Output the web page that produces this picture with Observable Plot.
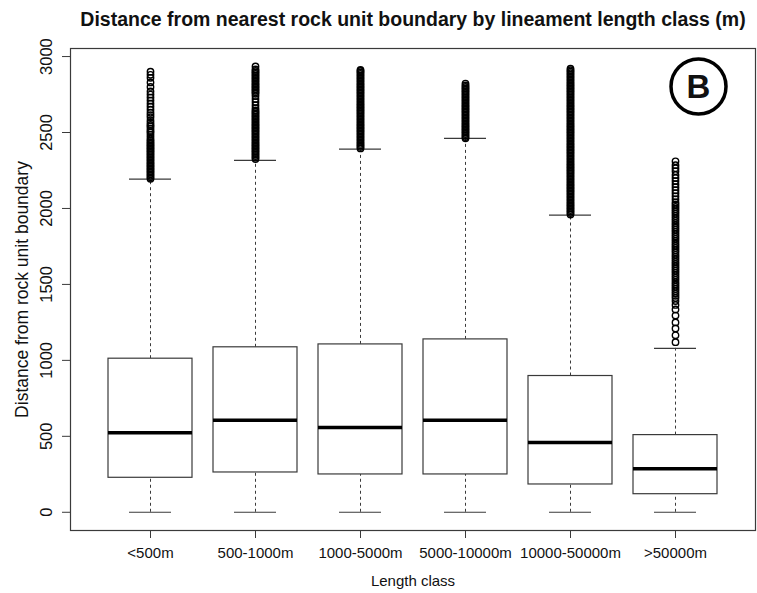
<!DOCTYPE html>
<html><head><meta charset="utf-8">
<script src="https://cdn.jsdelivr.net/npm/d3@7"></script>
<script src="https://cdn.jsdelivr.net/npm/@observablehq/plot@0.6"></script>
<style>html,body{margin:0;padding:0;background:#fff;}</style>
</head><body><div id="chart"></div>
<script>
const classes = ["<500m","500-1000m","1000-5000m","5000-10000m","10000-50000m",">50000m"];
const whiskerLow = [0,0,0,0,0,0];
const q1 = [227,262,249,249,183,119];
const median = [523,605,558,605,459,286];
const q3 = [1011,1086,1105,1138,897,508];
const whiskerHigh = [2193,2317,2391,2462,1956,1079];
const outliers1 = [2195,2205,2215,2225,2235,2245,2255,2265,2275,2285,2295,2305,2315,2325,2335,2345,2355,2365,2375,2385,2395,2405,2415,2425,2435,2445,2455,2470,2485,2500,2510,2525,2540,2550,2565,2580,2600,2615,2630,2650,2670,2690,2710,2730,2750,2770,2800,2830,2860,2880,2900];
const outliers2 = [2325,2335,2345,2355,2365,2375,2385,2395,2405,2415,2425,2435,2445,2455,2465,2475,2485,2495,2505,2515,2525,2535,2545,2555,2565,2575,2585,2595,2605,2615,2625,2635,2645,2660,2680,2700,2720,2740,2755,2765,2775,2785,2795,2805,2815,2825,2835,2845,2855,2865,2875,2885,2895,2905,2915,2935];
const outliers3 = [2395,2405,2415,2425,2435,2445,2455,2465,2475,2485,2495,2505,2515,2525,2535,2545,2555,2565,2575,2585,2595,2605,2615,2625,2635,2645,2655,2665,2675,2685,2695,2705,2715,2725,2735,2745,2755,2765,2775,2785,2795,2805,2815,2825,2835,2845,2855,2865,2875,2885,2895,2905,2912];
const outliers4 = [2462,2470,2480,2490,2500,2510,2520,2530,2540,2550,2560,2570,2580,2590,2600,2610,2620,2630,2640,2650,2660,2670,2680,2690,2700,2710,2720,2730,2740,2750,2760,2770,2780,2790,2800,2810,2822];
const outliers5 = [1960,1970,1980,1990,2000,2010,2020,2030,2040,2050,2060,2070,2080,2090,2100,2110,2120,2130,2140,2150,2160,2170,2180,2190,2200,2210,2220,2230,2240,2250,2260,2270,2280,2290,2300,2310,2320,2330,2340,2350,2360,2370,2380,2390,2400,2410,2420,2430,2440,2450,2460,2470,2480,2490,2500,2510,2520,2530,2540,2550,2560,2570,2580,2590,2600,2610,2620,2630,2640,2650,2660,2670,2680,2690,2700,2710,2720,2730,2740,2750,2760,2770,2780,2790,2800,2810,2820,2830,2840,2850,2860,2870,2880,2890,2900,2910,2920];
const outliers6 = [1120,1165,1210,1250,1295,1335,1365,1390,1410,1425,1440,1455,1470,1485,1500,1515,1530,1545,1560,1575,1590,1605,1620,1635,1650,1665,1680,1695,1710,1725,1740,1755,1770,1785,1800,1815,1830,1845,1860,1875,1890,1905,1920,1935,1950,1965,1980,1995,2010,2025,2040,2060,2080,2100,2120,2140,2160,2180,2200,2220,2245,2265,2285,2310];
const yTicks = [0,500,1000,1500,2000,2500,3000];
const title = "Distance from nearest rock unit boundary by lineament length class (m)";
const xLabel = "Length class";
const yLabel = "Distance from rock unit boundary";
const panelLetter = "B";

const boxes = classes.map((c,i)=>({cls:c, lo:whiskerLow[i], q1:q1[i], med:median[i], q3:q3[i], hi:whiskerHigh[i]}));
const outlierLists = [outliers1,outliers2,outliers3,outliers4,outliers5,outliers6];
const outlierRows = outlierLists.flatMap((arr,i)=>arr.map(v=>({cls:classes[i], v})));

const line = "#3a3a3a";
const plot = Plot.plot({
  width: 757, height: 593,
  marginTop: 48, marginBottom: 63, marginLeft: 70, marginRight: 2,
  style: {fontFamily: "'Liberation Sans', Arial, sans-serif", fontSize: "15px", color: "#111", background: "#fff"},
  x: {type: "band", domain: classes, paddingInner: 0.2, paddingOuter: 0.34, align: 0.5, label: null},
  y: {domain: [-120, 3053], label: null},
  marks: [
    Plot.ruleX(boxes, {x: "cls", y1: "lo", y2: "q1", stroke: line, strokeDasharray: "3,3"}),
    Plot.ruleX(boxes, {x: "cls", y1: "q3", y2: "hi", stroke: line, strokeDasharray: "3,3"}),
    Plot.tickY(boxes, {x: "cls", y: "lo", insetLeft: 21, insetRight: 21, stroke: line, strokeWidth: 1.2}),
    Plot.tickY(boxes, {x: "cls", y: "hi", insetLeft: 21, insetRight: 21, stroke: line, strokeWidth: 1.2}),
    Plot.barY(boxes, {x: "cls", y1: "q1", y2: "q3", fill: "#fff", stroke: line, strokeWidth: 1.2}),
    Plot.tickY(boxes, {x: "cls", y: "med", stroke: "#000", strokeWidth: 3.5}),
    Plot.dot(outlierRows, {x: "cls", y: "v", r: 3.2, stroke: "#000", strokeWidth: 1.4, fill: "none"}),
    Plot.frame({stroke: line, strokeWidth: 1.2}),
    Plot.axisY(yTicks, {tickSize: 8, tickFormat: () => "", label: null, stroke: line}),
    Plot.text(yTicks, {y: d => d, text: d => String(d), frameAnchor: "left", dx: -19, rotate: -90, lineAnchor: "bottom", textAnchor: "middle", fontSize: 16.5}),
    Plot.axisX({tickSize: 8, tickPadding: 9, label: null, stroke: line, fontSize: 15}),
    Plot.text([title], {text: d => d, frameAnchor: "top", dy: -29, fontWeight: "bold", fontSize: 19.5, lineAnchor: "middle"}),
    Plot.text([xLabel], {text: d => d, frameAnchor: "bottom", dy: 51, lineAnchor: "middle", fontSize: 15}),
    Plot.text([yLabel], {text: d => d, frameAnchor: "left", dx: -48, rotate: -90, lineAnchor: "middle", textAnchor: "middle", fontSize: 17.5}),
    Plot.dot([panelLetter], {frameAnchor: "top-right", dx: -57, dy: 38, r: 27.5, stroke: "#000", strokeWidth: 3.5, fill: "none"}),
    Plot.text([panelLetter], {text: d => d, frameAnchor: "top-right", textAnchor: "middle", dx: -57, dy: 39, fontSize: 33, fontWeight: "bold", lineAnchor: "middle"})
  ]
});
document.getElementById("chart").appendChild(plot);
</script>
</body></html>
